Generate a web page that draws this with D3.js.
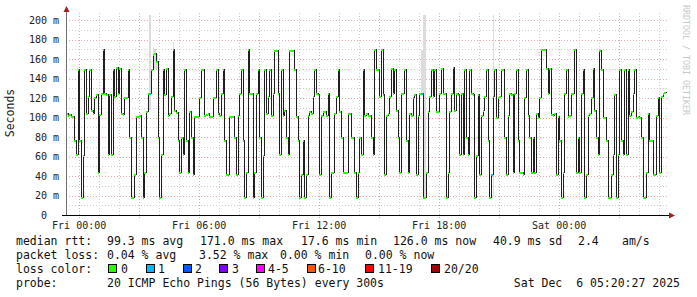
<!DOCTYPE html>
<html><head><meta charset="utf-8">
<script src="https://cdn.jsdelivr.net/npm/d3@7"></script>
<style>html,body{margin:0;padding:0;background:#fff;} svg{display:block;}</style>
</head><body><svg id="c" width="697" height="297"></svg>
<script>
// ---- data (median RTT in ms, one value per 5-minute step) ----
const median = [
105,103,104,102,102,77,63,150,77,18,
62,150,105,122,150,108,105,121,124,44,
104,125,170,125,124,63,124,63,150,122,
152,125,151,105,104,121,121,150,80,18,
18,42,102,102,103,80,18,44,107,125,
125,150,165,166,158,80,18,63,150,124,
151,103,105,122,170,108,106,77,44,80,
63,150,77,44,107,80,42,102,102,102,
121,150,150,103,104,105,102,102,121,
121,150,105,103,125,150,77,42,42,102,
102,102,80,42,103,125,150,77,18,44,
170,125,125,18,44,125,150,80,18,62,
150,105,122,150,103,125,169,169,125,63,
150,103,108,80,63,169,169,169,150,102,
77,18,42,77,18,42,103,107,105,122,
150,125,124,42,103,107,107,103,125,18,
44,44,105,122,150,107,80,44,44,44,
105,105,80,80,44,18,44,80,63,150,
103,
105,103,103,80,63,170,150,150,122,170,
124,42,103,105,122,151,125,150,108,80,
44,125,125,150,77,44,105,103,121,124,
42,103,125,125,18,18,44,107,122,150,
122,150,107,107,125,151,125,125,18,44,
107,125,152,108,125,124,63,125,63,150,
80,63,150,125,124,18,62,124,42,103,
108,122,150,77,18,42,122,150,101,121,
122,150,150,80,42,103,125,124,44,125,
150,77,44,44,42,121,150,103,80,44,
80,44,105,101,121,170,170,170,151,125,
151,104,103,105,42,102,77,18,44,125,
150,102,103,125,125,170,44,80,44,125,
150,18,42,103,105,121,151,108,80,63,
169,150,101,101,77,18,18,42,63,124,
18,63,150,77,63,150,63,150,103,107,
125,150,101,102,101,80,18,18,44,105,
77,77,42,42,103,121,44,122,125,126
];
const lossSteps  = [50, 213, 214, 255, 256];
const lossCounts = [1, 1, 1, 1, 1];
const smokeSteps = [50, 52, 53, 54, 64, 213, 214, 215, 256];
const smokeLow   = [108, 155, 150, 150, 168, 125, 17, 17, 20];
const smokeHigh  = [205, 172, 170, 165, 177, 169, 205, 205, 205];
const yTickValues = [0, 20, 40, 60, 80, 100, 120, 140, 160, 180, 200];
const xLabelTimes = ["2025-12-05T00:00:00Z","2025-12-05T06:00:00Z","2025-12-05T12:00:00Z","2025-12-05T18:00:00Z","2025-12-06T00:00:00Z"];
const lossNames  = ["0","1","2","3","4-5","6-10","11-19","20/20"];
const lossColors = ["#26ff00","#00b8ff","#0059ff","#7e00ff","#ff00ff","#ff5500","#ff0000","#a10000"];
const rttStats  = ["99.3 ms avg","171.0 ms max","17.6 ms min","126.0 ms now","40.9 ms sd","2.4","am/s"];
const lossStats = ["0.04 % avg","3.52 % max","0.00 % min","0.00 % now"];
const probeText = "20 ICMP Echo Pings (56 Bytes) every 300s";
const stampText = "Sat Dec  6 05:20:27 2025";

// ---- layout ----
const svg = d3.select("#c");
const mono = "'DejaVu Sans Mono', monospace";
const end = new Date(Date.UTC(2025,11,6,5,20,27));
const start = new Date(end.getTime() - 30*3600*1000);
const STEP = 300*1000;
const x = d3.scaleUtc().domain([start, end]).range([66, 666]);
const y = d3.scaleLinear().domain([0, 200]).range([215, 20]);
const tAt = i => new Date(start.getTime() + i*STEP);
const px = i => Math.round(x(tAt(i)));
const py = v => Math.round(y(v));

svg.append("rect").attr("width",697).attr("height",297).attr("fill","#fff");

// grid
const g = svg.append("g").attr("shape-rendering","crispEdges");
d3.range(10, 201, 10).forEach(v => {
  g.append("line").attr("x1",66).attr("x2",668).attr("y1",py(v)+0.5).attr("y2",py(v)+0.5)
   .attr("stroke", v%20===0 ? "#e8a8a8" : "#cfcfcf").attr("stroke-width",1).attr("stroke-dasharray","1,2");
});
x.ticks(d3.utcHour.every(1)).forEach(t => {
  const major = t.getUTCHours()%3===0;
  const xx = Math.round(x(t))+0.5;
  g.append("line").attr("x1",xx).attr("x2",xx).attr("y1",13).attr("y2",major?218:215)
   .attr("stroke", major ? "#e8a8a8" : "#cfcfcf").attr("stroke-width",1).attr("stroke-dasharray","1,2");
});

// smoke
svg.append("g").attr("shape-rendering","crispEdges").selectAll("rect").data(smokeSteps).join("rect")
  .attr("x",d=>px(d)).attr("width",d=>Math.max(1,px(d+1)-px(d)))
  .attr("y",(d,i)=>py(smokeHigh[i])).attr("height",(d,i)=>py(smokeLow[i])-py(smokeHigh[i]))
  .attr("fill","#dcdcdc");

// median step line
const pts = median.map((v,i)=>[i,v]);
pts.push([median.length, median[median.length-1]]);
const line = d3.line().x(d=>px(d[0])+0.5).y(d=>py(d[1])+0.5).curve(d3.curveStepAfter);
svg.append("path").attr("d",line(pts)).attr("fill","none").attr("stroke","#202020")
  .attr("stroke-width",1).attr("shape-rendering","crispEdges");

// loss coloured median marks
const lossOf = i => { const k = lossSteps.indexOf(i); return k<0 ? 0 : lossCounts[k]; };
svg.append("g").attr("shape-rendering","crispEdges").selectAll("rect").data(median).join("rect")
  .attr("x",(d,i)=>px(i)).attr("width",(d,i)=>Math.max(1,px(i+1)-px(i)))
  .attr("y",d=>py(d)-0.5).attr("height",2)
  .attr("fill",(d,i)=>lossColors[lossOf(i)]);

// axes
svg.append("line").attr("x1",66.5).attr("x2",66.5).attr("y1",10).attr("y2",216).attr("stroke","#707070").attr("stroke-width",1).attr("shape-rendering","crispEdges");
svg.append("line").attr("x1",62).attr("x2",670).attr("y1",215.5).attr("y2",215.5).attr("stroke","#000").attr("stroke-width",1).attr("shape-rendering","crispEdges");
svg.append("path").attr("d","M63.5,12 L69.5,12 L66.5,6 Z").attr("fill","#a02020");
svg.append("path").attr("d","M669,212.5 L669,218.5 L675,215.5 Z").attr("fill","#a02020");

// y tick labels
svg.append("g").selectAll("text").data(yTickValues).join("text")
  .attr("x", d => d===0 ? 47 : 59).attr("y", d => y(d)+3.5)
  .attr("text-anchor","end").attr("font-family",mono).attr("font-size",10).attr("fill","#222")
  .text(d => d===0 ? "0" : d + " m");

// x labels
svg.append("g").selectAll("text").data(xLabelTimes).join("text")
  .attr("x", d => x(new Date(d))).attr("y", 229).attr("text-anchor","middle")
  .attr("font-family",mono).attr("font-size",10).attr("fill","#222")
  .text(d => d3.utcFormat("%a %H:%M")(new Date(d)));

// y title
svg.append("text").attr("transform","translate(14,113) rotate(-90)").attr("text-anchor","middle")
  .attr("font-family",mono).attr("font-size",11.5).attr("fill","#222").text("Seconds");

// watermark
svg.append("text").attr("transform","translate(683,5) rotate(90)").attr("text-anchor","start")
  .attr("font-family",mono).attr("font-size",8.3).attr("fill","#c8c8c8").text("RRDTOOL / TOBI OETIKER");

// legend
const lg = svg.append("g").attr("font-family",mono).attr("font-size",11.5).attr("fill","#111");
const put = (t,xx,yy) => lg.append("text").attr("x",xx).attr("y",yy).attr("xml:space","preserve").text(t);
put("median rtt:",16,245);
[107,200,301,393,493,578,622].forEach((xx,i)=>put(rttStats[i],xx,245));
put("packet loss:",16,259);
[107,199,280,365].forEach((xx,i)=>put(lossStats[i],xx,259));
put("loss color:",16,273);
const boxX = [108,146,183,219,256,307,365,431];
const labX = [121,158,195,232,268,318,378,444];
lossNames.forEach((n,i)=>{
  lg.append("rect").attr("x",boxX[i]+0.5).attr("y",264.5).attr("width",8).attr("height",8)
    .attr("fill",lossColors[i]).attr("stroke","#000").attr("stroke-width",1).attr("shape-rendering","crispEdges");
  put(n,labX[i],273);
});
put("probe:",16,287);
put(probeText,107,287);
lg.append("text").attr("x",680).attr("y",287).attr("text-anchor","end").attr("xml:space","preserve").text(stampText);
</script></body></html>
